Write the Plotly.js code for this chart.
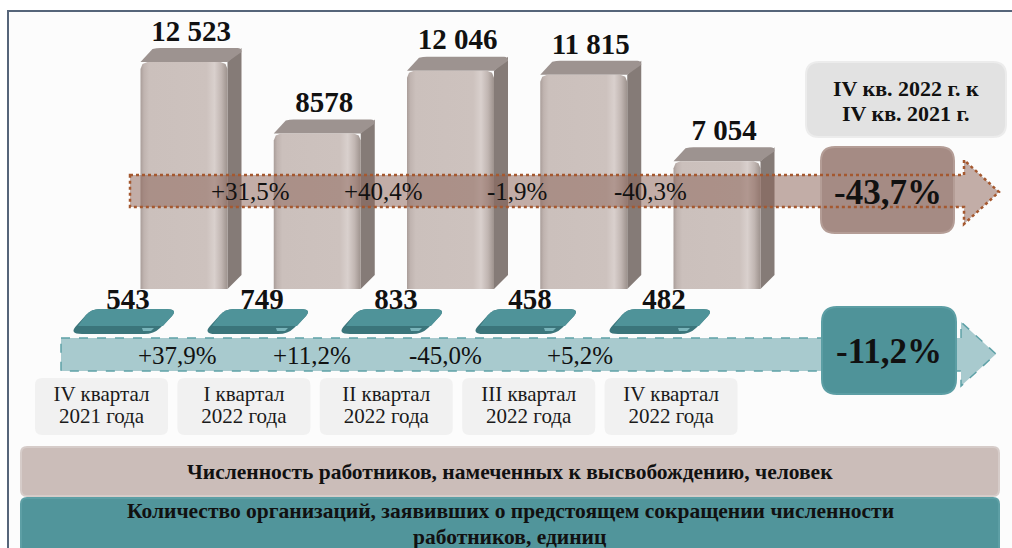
<!DOCTYPE html>
<html>
<head>
<meta charset="utf-8">
<script src="https://cdn.plot.ly/plotly-3.0.1.min.js"></script>
<style>
  html, body { margin: 0; padding: 0; background: #ffffff; }
  #chart { width: 1012px; height: 548px; }
</style>
</head>
<body>
<div id="chart"></div>
<script>
// ---- data ----
const quarters = ['IV квартал', 'I квартал', 'II квартал', 'III квартал', 'IV квартал'];
const years = ['2021 года', '2022 года', '2022 года', '2022 года', '2022 года'];
const workers = [12523, 8578, 12046, 11815, 7054];
const workerLabels = ['12 523', '8578', '12 046', '11 815', '7 054'];
const workerChange = ['+31,5%', '+40,4%', '-1,9%', '-40,3%'];
const orgs = [543, 749, 833, 458, 482];
const orgChange = ['+37,9%', '+11,2%', '-45,0%', '+5,2%'];
const workersTotal = '-43,7%';
const orgsTotal = '-11,2%';
const periodNote = ['IV кв. 2022 г. к', 'IV кв. 2021 г.'];
const legendWorkers = 'Численность работников, намеченных к высвобождению, человек';
const legendOrgs = ['Количество организаций, заявивших о предстоящем сокращении численности', 'работников, единиц'];

// ---- geometry of the page ----
const W = 1012, H = 548;
const FONT = 'Liberation Serif';
const BAR_X0 = 184, BAR_STEP = 133.25, BAR_HALF = 43.5, DEPTH = 14;
const ZERO_PX = 289, PX_PER_UNIT = 227 / 12523;
const PLATE_X0 = 124, PLATE_STEP = 134;
const CAT_X0 = 101.5, CAT_STEP = 142.4;
const idx = workers.map((_, i) => i);
const fx = x => x / W;
const px = x => x;

function rr(x0, y0, x1, y1, r, mx) {
  const p = (x, y) => `${mx(x)},${y}`;
  return `M${p(x0 + r, y0)} L${p(x1 - r, y0)} Q${p(x1, y0)} ${p(x1, y0 + r)} ` +
         `L${p(x1, y1 - r)} Q${p(x1, y1)} ${p(x1 - r, y1)} L${p(x0 + r, y1)} ` +
         `Q${p(x0, y1)} ${p(x0, y1 - r)} L${p(x0, y0 + r)} Q${p(x0, y0)} ${p(x0 + r, y0)} Z`;
}

function label(xref, x, y, text, size, bold) {
  return {xref: xref, yref: 'y2', x: x, y: y, xanchor: 'center', yanchor: 'middle',
    text: bold ? '<b>' + text + '</b>' : text, showarrow: false,
    font: {family: FONT, size: size, color: '#111111'}};
}

const traces = [];
const shapes = [];
const annotations = [];

// frame
shapes.push({type: 'rect', xref: 'paper', yref: 'y2', x0: fx(8), x1: fx(1014), y0: 11, y1: 552,
  fillcolor: '#fcfcfc', line: {color: '#56657a', width: 2}, layer: 'below'});

// ---- workers: 3D columns ----
const hw = BAR_HALF / BAR_STEP;
const rx = 7 / BAR_STEP, ry = 7 / PX_PER_UNIT;
const depthU = DEPTH / PX_PER_UNIT;
workers.forEach((v, i) => {
  const l = i - hw, r = i + hw;
  traces.push({
    type: 'scatter', mode: 'lines', xaxis: 'x', yaxis: 'y', hoverinfo: 'skip', showlegend: false,
    x: [l, r, r, r - rx * 0.29, r - rx, l + rx, l + rx * 0.29, l, l],
    y: [0, 0, v - ry, v - ry * 0.29, v, v, v - ry * 0.29, v - ry, 0],
    fill: 'toself', line: {width: 0},
    fillgradient: {type: 'horizontal', colorscale: [
      [0, '#a99d99'], [0.04, '#c0b4b0'], [0.1, '#cbc0bc'], [0.76, '#cdc2be'],
      [0.85, '#d9d0cd'], [0.93, '#c1b6b2'], [1, '#9d928d']]}
  });
  // side face
  shapes.push({type: 'path', xref: 'x', yref: 'y', xsizemode: 'pixel', xanchor: i, layer: 'below',
    path: `M${BAR_HALF},0 L${BAR_HALF + DEPTH},${depthU} L${BAR_HALF + DEPTH},${v + depthU} L${BAR_HALF},${v} Z`,
    fillcolor: '#857b77', line: {width: 0}});
  // top face
  shapes.push({type: 'path', xref: 'x', yref: 'y', xsizemode: 'pixel', ysizemode: 'pixel',
    xanchor: i, yanchor: v, layer: 'below',
    path: `M${-BAR_HALF},0 L${-BAR_HALF + DEPTH - 2},${DEPTH - 1} Q${-BAR_HALF + DEPTH + 2},${DEPTH} ${-BAR_HALF + DEPTH + 6},${DEPTH} L${BAR_HALF + DEPTH - 4},${DEPTH} Q${BAR_HALF + DEPTH},${DEPTH} ${BAR_HALF + DEPTH},${DEPTH - 4} L${BAR_HALF},0 Z`,
    fillcolor: '#9d9390', line: {width: 0}});
});
traces.push({
  type: 'scatter', mode: 'text', xaxis: 'x', yaxis: 'y', hoverinfo: 'skip', showlegend: false,
  x: idx.map(i => i + DEPTH / 2 / BAR_STEP), y: workers.map(v => v + depthU),
  text: workerLabels.map(t => '<b>' + t + '</b>'), textposition: 'top center',
  textfont: {family: FONT, size: 29, color: '#111111'}
});

// period note
shapes.push({type: 'path', xref: 'paper', yref: 'y2', layer: 'above',
  path: rr(806, 62, 1006, 137, 13, fx), fillcolor: '#e2e2e2', line: {color: '#ececec', width: 2}});
periodNote.forEach((t, k) => annotations.push(label('paper', fx(906), 88 + k * 25, t, 22, true)));

// workers trend arrow
const brownArrow = `M${fx(130)},175 L${fx(964)},175 L${fx(964)},160 L${fx(999)},192 L${fx(964)},224 L${fx(964)},207 L${fx(130)},207 Z`;
shapes.push({type: 'path', xref: 'paper', yref: 'y2', layer: 'above', path: brownArrow,
  fillcolor: 'rgba(140,100,88,0.52)', line: {width: 0}});
shapes.push({type: 'path', xref: 'paper', yref: 'y2', layer: 'above',
  path: rr(821, 147, 954, 233, 14, fx), fillcolor: '#a58b84', line: {color: '#b49d96', width: 2}});
shapes.push({type: 'path', xref: 'paper', yref: 'y2', layer: 'above', path: brownArrow,
  fillcolor: 'rgba(0,0,0,0)', line: {color: '#a5582f', width: 2.5, dash: 'dot'}});
workerChange.forEach((t, i) => annotations.push(label('x', i + 0.5, 191, t, 25, false)));
annotations.push(label('paper', fx(888), 192, workersTotal, 35, true));

// ---- organisations: flat plates ----
orgs.forEach((v, i) => {
  shapes.push({type: 'path', xref: 'x2', yref: 'y2', xsizemode: 'pixel', xanchor: i, layer: 'below',
    path: 'M-24,309 L42,309 Q54,309 48,316 L36,328 Q30,334 20,334 L-42,334 Q-56,334 -47,325 L-38,315 Q-33,309 -24,309 Z',
    fillcolor: '#3b757b', line: {width: 0}});
  shapes.push({type: 'path', xref: 'x2', yref: 'y2', xsizemode: 'pixel', xanchor: i, layer: 'below',
    path: 'M-24,309 L42,309 Q54,309 48,316 L39,326 L-46,326 L-38,315 Q-33,309 -24,309 Z',
    fillcolor: '#4f9399', line: {width: 0}});
  shapes.push({type: 'path', xref: 'x2', yref: 'y2', xsizemode: 'pixel', xanchor: i, layer: 'below',
    path: 'M18,328 L30,328 L27,331 L19,331 Z', fillcolor: '#79b4ba', line: {width: 0}});
});
traces.push({
  type: 'scatter', mode: 'text', xaxis: 'x2', yaxis: 'y2', hoverinfo: 'skip', showlegend: false,
  x: idx.map(i => i + 0.03), y: orgs.map(() => 302), text: orgs.map(v => '<b>' + v + '</b>'),
  textposition: 'middle center',
  textfont: {family: FONT, size: 29, color: '#111111'}
});

const tealArrow = `M${fx(61)},338 L${fx(961)},338 L${fx(961)},322 L${fx(996)},354 L${fx(961)},386 L${fx(961)},371 L${fx(61)},371 Z`;
shapes.push({type: 'path', xref: 'paper', yref: 'y2', layer: 'above', path: tealArrow,
  fillcolor: '#a8cace', line: {color: '#5ea1a7', width: 1.5, dash: 'dash'}});
shapes.push({type: 'path', xref: 'paper', yref: 'y2', layer: 'above',
  path: rr(822, 307, 956, 394, 15, fx), fillcolor: '#4f9399', line: {color: '#5c9ea4', width: 2}});
orgChange.forEach((t, i) => annotations.push(label('x2', i + 0.4, 355, t, 25, false)));
annotations.push(label('paper', fx(889), 351, orgsTotal, 35, true));

// ---- period labels ----
idx.forEach(i => shapes.push({type: 'path', xref: 'x3', yref: 'y2', xsizemode: 'pixel', xanchor: i, layer: 'below',
  path: rr(-66.5, 378, 66.5, 435, 7, px), fillcolor: '#f1f1f1', line: {width: 0}}));
[quarters, years].forEach((row, k) => traces.push({
  type: 'scatter', mode: 'text', xaxis: 'x3', yaxis: 'y2', hoverinfo: 'skip', showlegend: false,
  x: idx, y: row.map(() => 396 + k * 22), text: row, textposition: 'middle center',
  textfont: {family: FONT, size: 21, color: '#1a1a1a'}
}));

// ---- legend bands ----
shapes.push({type: 'path', xref: 'paper', yref: 'y2', layer: 'below',
  path: rr(21, 447, 999, 496, 6, fx), fillcolor: '#cbbdb9', line: {color: '#d6ccc9', width: 2}});
shapes.push({type: 'path', xref: 'paper', yref: 'y2', layer: 'below',
  path: rr(21, 498, 999, 560, 6, fx), fillcolor: '#51959b', line: {color: '#5d9fa5', width: 2}});
annotations.push(label('paper', fx(510), 472, legendWorkers, 21.5, true));
legendOrgs.forEach((t, k) => annotations.push(label('paper', fx(510), 511 + k * 26, t, 21.5, true)));

const hidden = {visible: false, fixedrange: true, showgrid: false, zeroline: false};
const layout = {
  width: W, height: H,
  margin: {l: 0, r: 0, t: 0, b: 0, pad: 0},
  paper_bgcolor: '#ffffff', plot_bgcolor: 'rgba(0,0,0,0)',
  showlegend: false,
  font: {family: FONT},
  xaxis: Object.assign({range: [-BAR_X0 / BAR_STEP, (W - BAR_X0) / BAR_STEP]}, hidden),
  yaxis: Object.assign({range: [-(H - ZERO_PX) / PX_PER_UNIT, ZERO_PX / PX_PER_UNIT]}, hidden),
  xaxis2: Object.assign({overlaying: 'x', range: [-PLATE_X0 / PLATE_STEP, (W - PLATE_X0) / PLATE_STEP]}, hidden),
  xaxis3: Object.assign({overlaying: 'x', range: [-CAT_X0 / CAT_STEP, (W - CAT_X0) / CAT_STEP]}, hidden),
  yaxis2: Object.assign({overlaying: 'y', range: [H, 0]}, hidden),
  shapes: shapes,
  annotations: annotations
};

Plotly.newPlot('chart', traces, layout, {staticPlot: true, displayModeBar: false});
</script>
</body>
</html>
